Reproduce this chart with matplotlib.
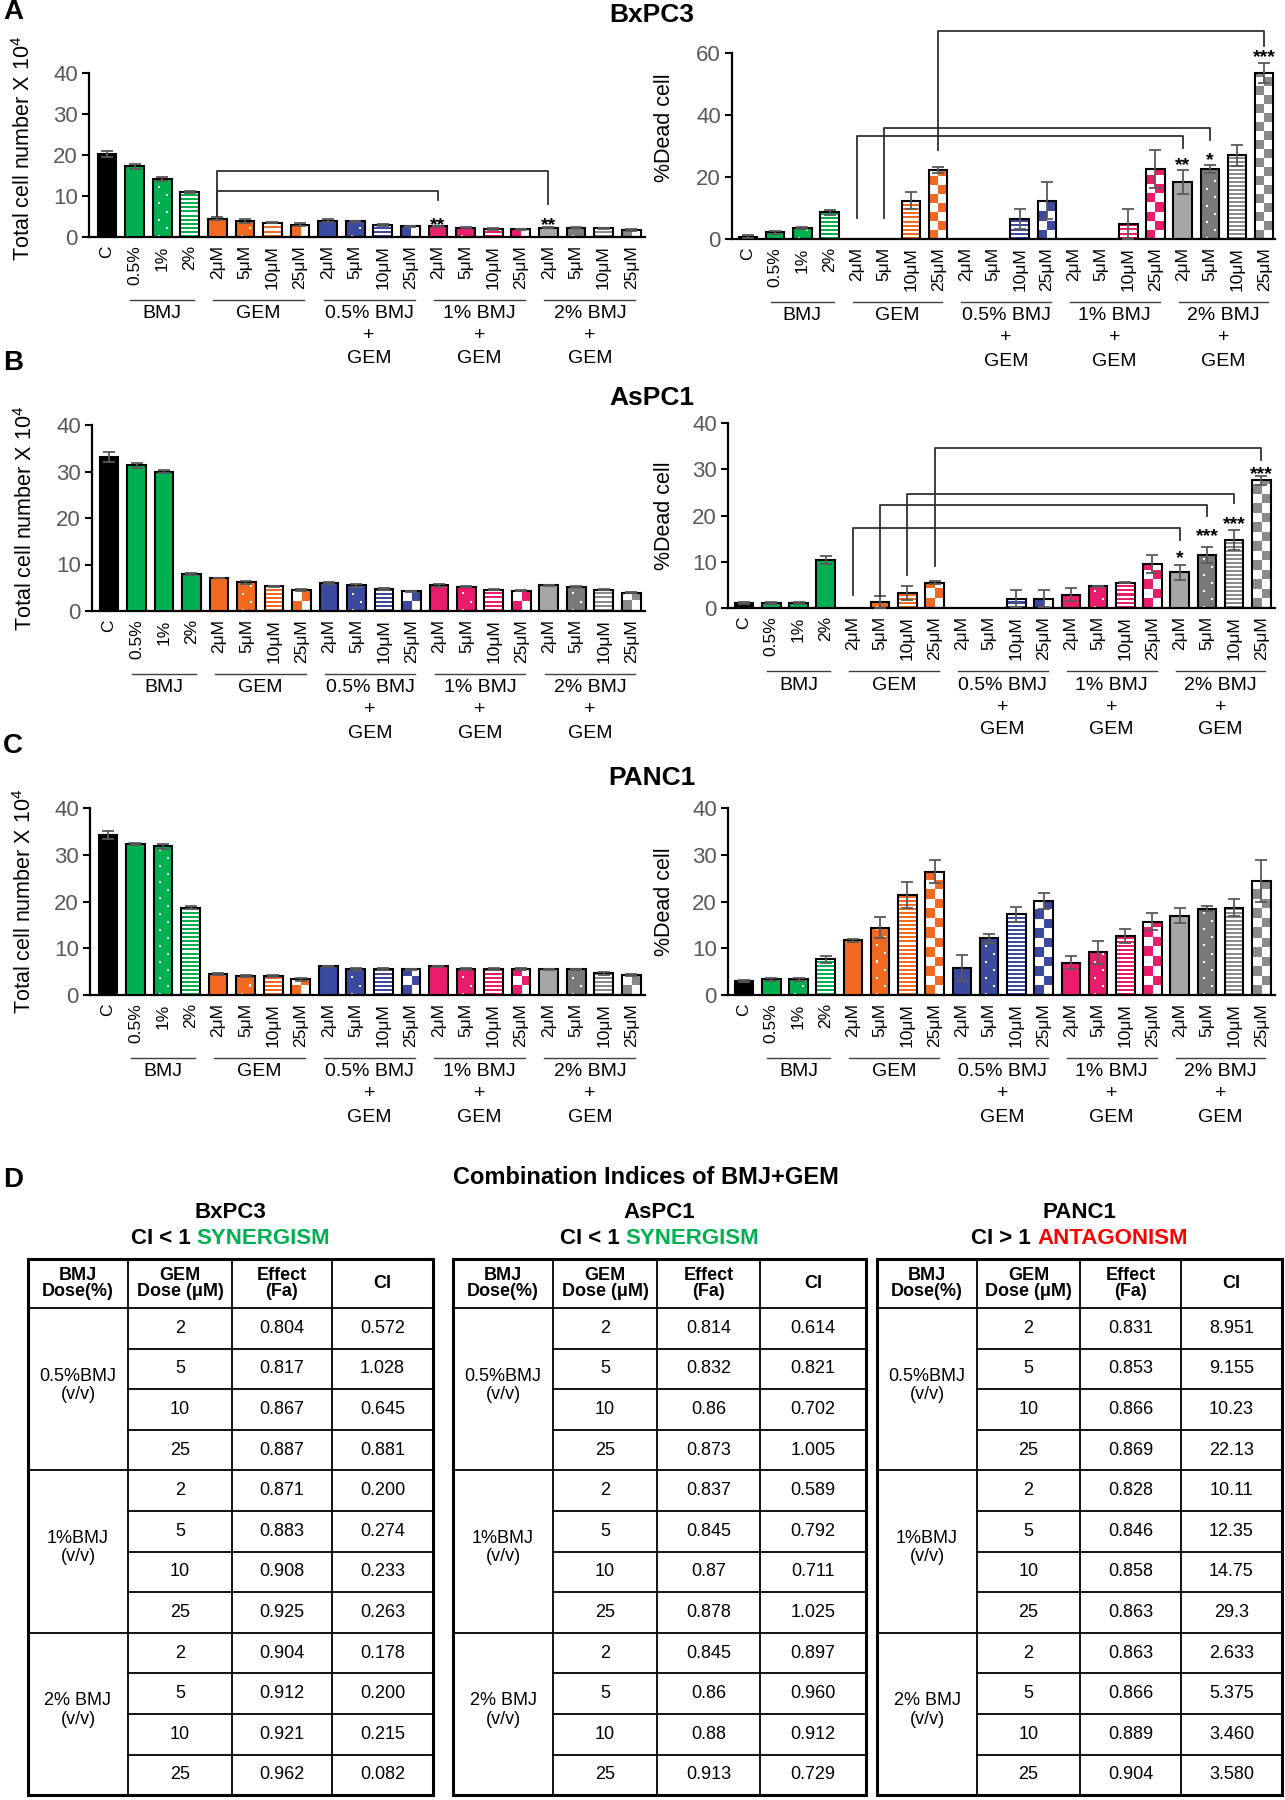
import numpy as np
import matplotlib
matplotlib.use('Agg')
import matplotlib.pyplot as plt
from matplotlib.colors import to_rgb
from matplotlib.patches import Rectangle

plt.rcParams['font.family'] = ['Liberation Sans', 'DejaVu Sans']
plt.rcParams['mathtext.fontset'] = 'custom'
plt.rcParams['mathtext.rm'] = 'Liberation Sans'
plt.rcParams['mathtext.default'] = 'regular'

W, H = 1285, 1800

# ---- categories ----
cats = ['C', '0.5%', '1%', '2%'] + ['2μM', '5μM', '10μM', '25μM'] * 4
groups = [('BMJ', 1, 3, False), ('GEM', 4, 7, False), ('0.5% BMJ', 8, 11, True),
          ('1% BMJ', 12, 15, True), ('2% BMJ', 16, 19, True)]

GREEN, ORANGE, BLUE, PINK = '#00B050', '#F26A21', '#3B4A9E', '#EA1C6C'
bar_colors = (['#000000'] + [GREEN] * 3 + [ORANGE] * 4 + [BLUE] * 4 + [PINK] * 4
              + ['#A6A6A6', '#7A7A7A', '#8A8A8A', '#8A8A8A'])
pats = ['solid', 'solid', 'dot', 'stripe'] + ['solid', 'dot', 'stripe', 'check'] * 4
pats_b = ['solid'] * 4 + pats[4:]

# ---- BxPC3 ----
bx_total = [20.2, 17.2, 14.2, 11.0, 4.5, 3.9, 3.5, 3.0, 4.0, 3.8, 2.9, 2.6,
            2.6, 2.3, 1.9, 1.9, 2.3, 2.3, 2.1, 1.7]
bx_total_err = [0.7, 0.6, 0.5, 0.2, 0.3, 0.5, 0.2, 0.3, 0.3, 0.2, 0.2, 0.2,
                0.2, 0.1, 0.3, 0.1, 0.1, 0.1, 0.1, 0.2]
bx_dead = [0.8, 2.1, 3.5, 8.6, 0, 0, 12.4, 22.2, 0, 0, 6.5, 12.4,
           0, 0, 4.9, 22.7, 18.4, 22.6, 27.0, 53.5]
bx_dead_err = [0.4, 0.5, 0.3, 0.8, 0, 0, 2.7, 1.0, 0, 0, 3.2, 5.9,
               0, 0, 4.8, 6.1, 4.0, 1.3, 3.4, 3.2]

# ---- AsPC1 ----
as_total = [33.1, 31.3, 30.0, 8.0, 7.1, 6.2, 5.3, 4.6, 6.0, 5.5, 4.7, 4.2,
            5.5, 5.2, 4.6, 4.4, 5.5, 5.2, 4.6, 3.9]
as_total_err = [1.1, 0.5, 0.3, 0.2, 0.1, 0.3, 0.1, 0.2, 0.3, 0.3, 0.2, 0.1,
                0.3, 0.1, 0.1, 0.1, 0.1, 0.1, 0.1, 0.1]
as_dead = [1.1, 1.1, 1.1, 10.4, 0, 1.3, 3.2, 5.5, 0, 0, 2.0, 2.0,
           2.9, 4.7, 5.5, 9.5, 7.7, 11.4, 14.7, 27.6]
as_dead_err = [0.3, 0.3, 0.3, 0.9, 0, 1.4, 1.5, 0.3, 0, 0, 1.8, 1.8,
               1.4, 0.1, 0.1, 2.0, 1.6, 1.7, 2.1, 0.9]

# ---- PANC1 ----
pa_total = [34.2, 32.3, 31.8, 18.7, 4.4, 4.1, 4.0, 3.4, 6.1, 5.6, 5.5, 5.5,
            6.1, 5.6, 5.5, 5.5, 5.5, 5.5, 4.6, 4.2]
pa_total_err = [0.8, 0.3, 0.6, 0.4, 0.2, 0.2, 0.2, 0.3, 0.1, 0.2, 0.2, 0.1,
                0.2, 0.2, 0.2, 0.2, 0.1, 0.1, 0.3, 0.2]
pa_dead = [3.0, 3.4, 3.4, 7.6, 11.7, 14.4, 21.4, 26.4, 5.8, 12.1, 17.3, 20.1,
           6.9, 9.1, 12.6, 15.7, 17.0, 18.5, 18.7, 24.4]
pa_dead_err = [0.2, 0.3, 0.3, 0.8, 0.3, 2.2, 2.8, 2.5, 2.8, 1.0, 1.6, 1.8,
               1.4, 2.5, 1.5, 1.8, 1.6, 0.5, 1.8, 4.5]

# significance brackets: (left bar, right bar, bracket y, left end, right end, stars, star y)
bx_total_sig = [(4, 12, 11.3, 5.0, 9.0, '**', 4.4), (4, 16, 16.2, 5.0, 8.0, '**', 4.4)]
bx_dead_sig = [(4, 16, 33.1, 6.8, 29.4, '**', 25.8), (5, 17, 35.8, 6.8, 32.0, '*', 27.5),
               (7, 19, 67.0, 28.6, 62.2, '***', 60.5)]
as_dead_sig = [(4, 16, 17.3, 2.9, 14.7, '*', 12.2), (5, 17, 22.3, 2.5, 19.8, '***', 16.9),
               (6, 18, 24.7, 7.2, 22.7, '***', 19.4), (7, 19, 34.5, 9.0, 32.0, '***', 30.2)]

# ---- combination index tables ----
gem_doses = [2, 5, 10, 25]
bmj_rows = ['0.5%BMJ\n(v/v)', '1%BMJ\n(v/v)', '2% BMJ\n(v/v)']
bx_fa = ['0.804', '0.817', '0.867', '0.887', '0.871', '0.883', '0.908', '0.925',
         '0.904', '0.912', '0.921', '0.962']
bx_ci = ['0.572', '1.028', '0.645', '0.881', '0.200', '0.274', '0.233', '0.263',
         '0.178', '0.200', '0.215', '0.082']
as_fa = ['0.814', '0.832', '0.86', '0.873', '0.837', '0.845', '0.87', '0.878',
         '0.845', '0.86', '0.88', '0.913']
as_ci = ['0.614', '0.821', '0.702', '1.005', '0.589', '0.792', '0.711', '1.025',
         '0.897', '0.960', '0.912', '0.729']
pa_fa = ['0.831', '0.853', '0.866', '0.869', '0.828', '0.846', '0.858', '0.863',
         '0.863', '0.866', '0.889', '0.904']
pa_ci = ['8.951', '9.155', '10.23', '22.13', '10.11', '12.35', '14.75', '29.3',
         '2.633', '5.375', '3.460', '3.580']

fig = plt.figure(figsize=(W / 100, H / 100), dpi=100)
ov = fig.add_axes([0, 0, 1, 1], zorder=10)
ov.set_xlim(0, W)
ov.set_ylim(H, 0)
ov.axis('off')


def texture(kind, color, wpx, hpx):
    img = np.ones((hpx, wpx, 3))
    img[:] = np.array(to_rgb(color))
    yy, xx = np.mgrid[0:hpx, 0:wpx]
    if kind == 'stripe':
        img[(yy % 4) >= 2] = 1.0
    elif kind == 'check':
        cs = max(wpx / 2.0, 1)
        m = ((yy // cs).astype(int) + (xx // cs).astype(int)) % 2 == 1
        img[m] = 1.0
    elif kind == 'dot':
        step = 8
        cx = np.where((yy // step) % 2 == 0, wpx * 0.3, wpx * 0.7)
        m = ((yy % step) < 2) & (np.abs(xx - cx) < 1.1)
        img[m] = 1.0
    return img


def chart(x0, x1, top, bot, xlim, ymax, ystep, vals, errs, patterns, ylabel, ylab_xy, sig=()):
    ax = fig.add_axes([x0 / W, 1 - bot / H, (x1 - x0) / W, (bot - top) / H])
    ax.set_xlim(xlim)
    ax.set_ylim(0, ymax)
    ax.patch.set_visible(False)
    for s in ['top', 'right']:
        ax.spines[s].set_visible(False)
    for s in ['left', 'bottom']:
        ax.spines[s].set_linewidth(1.6)
    ax.set_yticks(np.arange(0, ymax + 1, ystep))
    ax.tick_params(axis='y', length=5, width=1.5, labelsize=16, labelcolor='#595959', pad=3)
    ax.set_xticks(np.arange(len(cats)))
    ax.set_xticklabels(cats, rotation=90, fontsize=12.5)
    ax.tick_params(axis='x', length=0, pad=6)
    ax.set_ylabel(ylabel, fontsize=15.5)
    ax.yaxis.set_label_coords(*ylab_xy)

    ppx = ax.transData.transform((1, 0))[0] - ax.transData.transform((0, 0))[0]
    ppy = ax.transData.transform((0, 1))[1] - ax.transData.transform((0, 0))[1]
    bw = 0.68
    for i, (v, e, p, c) in enumerate(zip(vals, errs, patterns, bar_colors)):
        if v <= 0:
            continue
        if p == 'solid':
            ax.bar(i, v, bw, color=c, edgecolor='black', linewidth=1.5, zorder=3)
        else:
            wpx = int(round(bw * ppx))
            hpx = max(int(round(v * ppy)), 1)
            ax.imshow(texture(p, c, wpx, hpx), extent=(i - bw / 2, i + bw / 2, 0, v),
                      origin='lower', interpolation='nearest', aspect='auto', zorder=2)
            ax.bar(i, v, bw, facecolor='none', edgecolor='black', linewidth=1.5, zorder=3)
        if e > 0:
            ax.errorbar(i, v, yerr=e, fmt='none', ecolor='#595959', elinewidth=1.3,
                        capsize=4, capthick=1.3, zorder=4)

    for a, b, yb, ya, yc, st, ys in sig:
        ax.plot([a, a, b, b], [ya, yb, yb, yc], color='#303030', lw=1.3, clip_on=False, zorder=5)
        ax.annotate(st, (b, ys), xytext=(0, -8), textcoords='offset points', ha='center',
                    va='baseline', fontsize=14, fontweight='bold', annotation_clip=False)
    ax.set_xlim(xlim)
    ax.set_ylim(0, ymax)

    base = H - ax.transData.transform((0, 0))[1]
    for name, a, b, plus in groups:
        xa = ax.transData.transform((a - 0.15, 0))[0]
        xb = ax.transData.transform((b + 0.15, 0))[0]
        ov.plot([xa, xb], [base + 63] * 2, color='#404040', lw=1.0)
        xm = (xa + xb) / 2
        ov.text(xm, base + 77, name, ha='center', va='center', fontsize=14)
        if plus:
            ov.text(xm, base + 99, '+', ha='center', va='center', fontsize=14)
            ov.text(xm, base + 122, 'GEM', ha='center', va='center', fontsize=14)
    return ax


tot_label = 'Total cell number X 10$^4$'
dead_label = '%Dead cell'

# panel A
chart(89, 645, 73, 237, (-0.65, 19.5), 40, 10, bx_total, bx_total_err, pats,
      tot_label, (-0.098, 0.54), bx_total_sig)
chart(732, 1275, 53, 239, (-0.59, 19.4), 60, 20, bx_dead, bx_dead_err, pats,
      dead_label, (-0.105, 0.60), bx_dead_sig)
# panel B
chart(92, 645, 425, 611, (-0.62, 19.5), 40, 10, as_total, as_total_err, pats_b,
      tot_label, (-0.1, 0.5))
chart(728, 1275, 423, 608, (-0.59, 19.5), 40, 10, as_dead, as_dead_err, pats_b,
      dead_label, (-0.097, 0.5), as_dead_sig)
# panel C
chart(90, 645, 808, 995, (-0.65, 19.5), 40, 10, pa_total, pa_total_err, pats,
      tot_label, (-0.098, 0.5))
chart(728, 1275, 808, 995, (-0.59, 19.5), 40, 10, pa_dead, pa_dead_err, pats,
      dead_label, (-0.097, 0.5))

# titles and panel letters
for letter, y in [('A', 12), ('B', 363), ('C', 746), ('D', 1180)]:
    ov.text(3, y, letter, ha='left', va='center', fontsize=20, fontweight='bold')
for name, y in [('BxPC3', 15), ('AsPC1', 398), ('PANC1', 778)]:
    ov.text(652, y, name, ha='center', va='center', fontsize=19, fontweight='bold')
ov.text(646, 1177, 'Combination Indices of BMJ+GEM', ha='center', va='center',
        fontsize=17, fontweight='bold')

renderer = fig.canvas.get_renderer()


def table(cols, title, cond, word, wcolor, fa, ci):
    top, hh, rh = 1259, 49, 40.6
    bot = top + hh + 12 * rh
    xc = (cols[0] + cols[-1]) / 2
    ov.text(xc, 1212, title, ha='center', va='center', fontsize=16, fontweight='bold')
    t1 = ov.text(0, 1238, cond, ha='left', va='center', fontsize=16, fontweight='bold')
    t2 = ov.text(0, 1238, word, ha='left', va='center', fontsize=16, fontweight='bold', color=wcolor)
    w1 = t1.get_window_extent(renderer).width
    w2 = t2.get_window_extent(renderer).width
    gap = 6
    xs = xc - (w1 + gap + w2) / 2
    t1.set_x(xs)
    t2.set_x(xs + w1 + gap)

    ov.add_patch(Rectangle((cols[0], top), cols[-1] - cols[0], bot - top, fill=False,
                           ec='black', lw=2.2))
    for c in cols[1:-1]:
        ov.plot([c, c], [top, bot], color='black', lw=1.3)
    ov.plot([cols[0], cols[-1]], [top + hh] * 2, color='black', lw=1.3)
    for r in range(1, 12):
        y = top + hh + r * rh
        x0 = cols[0] if r % 4 == 0 else cols[1]
        ov.plot([x0, cols[-1]], [y, y], color='black', lw=1.3)
    heads = ['BMJ\nDose(%)', 'GEM\nDose (μM)', 'Effect\n(Fa)', 'CI']
    for k, hd in enumerate(heads):
        ov.text((cols[k] + cols[k + 1]) / 2, top + hh / 2, hd, ha='center', va='center',
                fontsize=13, fontweight='bold', linespacing=1.0)
    for g in range(3):
        yg = top + hh + (g * 4 + 2) * rh
        ov.text((cols[0] + cols[1]) / 2, yg - 4, bmj_rows[g], ha='center', va='center',
                fontsize=13, linespacing=1.1)
    for r in range(12):
        yr = top + hh + (r + 0.5) * rh
        ov.text((cols[1] + cols[2]) / 2, yr, str(gem_doses[r % 4]), ha='center', va='center', fontsize=13)
        ov.text((cols[2] + cols[3]) / 2, yr, fa[r], ha='center', va='center', fontsize=13)
        ov.text((cols[3] + cols[4]) / 2, yr, ci[r], ha='center', va='center', fontsize=13)


table([28, 128, 232, 332, 433], 'BxPC3', 'CI < 1', 'SYNERGISM', '#00B050', bx_fa, bx_ci)
table([453, 553, 657, 760, 866], 'AsPC1', 'CI < 1', 'SYNERGISM', '#00B050', as_fa, as_ci)
table([877, 977, 1080, 1181, 1282], 'PANC1', 'CI > 1', 'ANTAGONISM', '#FF0000', pa_fa, pa_ci)

fig.savefig('out.png', dpi=100)
